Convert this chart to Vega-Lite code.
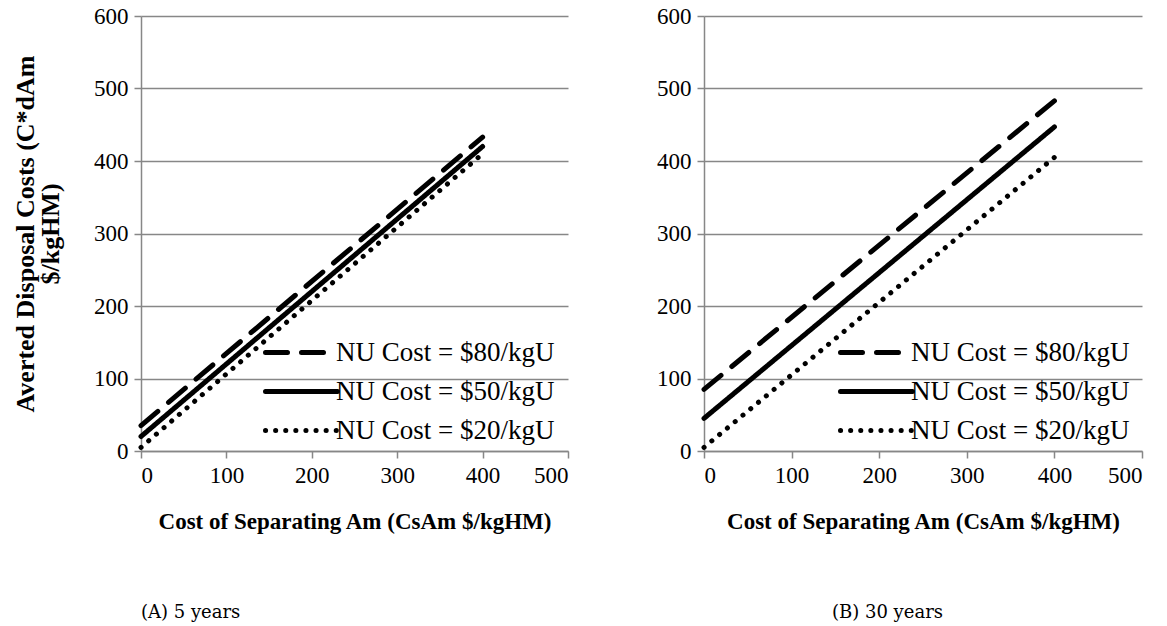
{
  "$schema": "https://vega.github.io/schema/vega-lite/v6.json",
  "padding": {"left": 12, "top": 5, "right": 5, "bottom": 2},
  "background": "white",
  "config": {
    "view": {"stroke": null},
    "font": "Liberation Serif",
    "axis": {
      "labelFont": "Liberation Serif",
      "labelFontSize": 23,
      "labelColor": "black",
      "titleFont": "Liberation Serif",
      "titleFontSize": 23,
      "titleFontWeight": "bold",
      "titleColor": "black",
      "domainColor": "#878787",
      "domainWidth": 1.5,
      "tickColor": "#878787",
      "tickWidth": 1.5,
      "tickSize": 7,
      "gridColor": "#878787",
      "gridWidth": 1.5
    },
    "legend": {
      "labelFont": "Liberation Serif",
      "labelFontSize": 27,
      "labelColor": "black",
      "labelLimit": 400,
      "symbolType": "M-3,0L3,0",
      "symbolSize": 576,
      "symbolStrokeWidth": 5,
      "symbolStrokeColor": "black",
      "symbolFillColor": "transparent",
      "rowPadding": 11,
      "labelOffset": 20
    }
  },
  "datasets": {
    "lines": [
      {"panel": "A", "series": "NU Cost = $80/kgU", "x": 0, "y": 35},
      {"panel": "A", "series": "NU Cost = $80/kgU", "x": 400, "y": 433},
      {"panel": "A", "series": "NU Cost = $50/kgU", "x": 0, "y": 20},
      {"panel": "A", "series": "NU Cost = $50/kgU", "x": 400, "y": 420},
      {"panel": "A", "series": "NU Cost = $20/kgU", "x": 0, "y": 5},
      {"panel": "A", "series": "NU Cost = $20/kgU", "x": 400, "y": 410},
      {"panel": "B", "series": "NU Cost = $80/kgU", "x": 0, "y": 85},
      {"panel": "B", "series": "NU Cost = $80/kgU", "x": 400, "y": 483},
      {"panel": "B", "series": "NU Cost = $50/kgU", "x": 0, "y": 45},
      {"panel": "B", "series": "NU Cost = $50/kgU", "x": 400, "y": 447},
      {"panel": "B", "series": "NU Cost = $20/kgU", "x": 0, "y": 5},
      {"panel": "B", "series": "NU Cost = $20/kgU", "x": 400, "y": 405}
    ]
  },
  "bounds": "flush",
  "spacing": 136,
  "resolve": {"scale": {"strokeDash": "independent"}, "legend": {"strokeDash": "independent"}},
  "hconcat": [
    {
      "width": 427,
      "height": 435,
      "data": {"name": "lines"},
      "transform": [{"filter": "datum.panel == 'A'"}],
      "title": {"text": "(A) 5 years", "orient": "bottom", "anchor": "start", "frame": "group", "offset": 71, "font": "DejaVu Serif", "fontSize": 18, "fontWeight": "normal", "color": "black"},
      "mark": {"type": "line", "color": "black", "strokeWidth": 5, "strokeCap": "round"},
      "encoding": {
        "x": {"field": "x", "type": "quantitative", "scale": {"domain": [0, 500], "nice": false}, "axis": {"title": "Cost of Separating Am (CsAm $/kgHM)", "values": [0, 100, 200, 300, 400, 500], "grid": false, "labelPadding": 6, "titlePadding": 23}},
        "y": {"field": "y", "type": "quantitative", "scale": {"domain": [0, 600], "nice": false}, "axis": {"title": ["Averted Disposal Costs (C*dAm", "$/kgHM)"], "values": [0, 100, 200, 300, 400, 500, 600], "grid": true, "labelPadding": 6, "titlePadding": 30, "titleFontSize": 26, "titleLineHeight": 25}},
        "strokeDash": {"field": "series", "type": "nominal", "sort": ["NU Cost = $80/kgU", "NU Cost = $50/kgU", "NU Cost = $20/kgU"], "scale": {"domain": ["NU Cost = $80/kgU", "NU Cost = $50/kgU", "NU Cost = $20/kgU"], "range": [[22, 14], [1, 0], [0.1, 10]]}, "legend": {"title": null, "orient": "none", "legendX": 146, "legendY": 322, "encode": {"symbols": {"update": {"strokeCap": {"value": "round"}}}}}}
      }
    },
    {
      "width": 438,
      "height": 435,
      "data": {"name": "lines"},
      "transform": [{"filter": "datum.panel == 'B'"}],
      "title": {"text": "(B) 30 years", "orient": "bottom", "anchor": "start", "frame": "group", "dx": 128, "offset": 71, "font": "DejaVu Serif", "fontSize": 18, "fontWeight": "normal", "color": "black"},
      "mark": {"type": "line", "color": "black", "strokeWidth": 5, "strokeCap": "round"},
      "encoding": {
        "x": {"field": "x", "type": "quantitative", "scale": {"domain": [0, 500], "nice": false}, "axis": {"title": "Cost of Separating Am (CsAm $/kgHM)", "values": [0, 100, 200, 300, 400, 500], "grid": false, "labelPadding": 6, "titlePadding": 23}},
        "y": {"field": "y", "type": "quantitative", "scale": {"domain": [0, 600], "nice": false}, "axis": {"title": null, "values": [0, 100, 200, 300, 400, 500, 600], "grid": true, "labelPadding": 6}},
        "strokeDash": {"field": "series", "type": "nominal", "sort": ["NU Cost = $80/kgU", "NU Cost = $50/kgU", "NU Cost = $20/kgU"], "scale": {"domain": ["NU Cost = $80/kgU", "NU Cost = $50/kgU", "NU Cost = $20/kgU"], "range": [[22, 14], [1, 0], [0.1, 10]]}, "legend": {"title": null, "orient": "none", "legendX": 158, "legendY": 322, "encode": {"symbols": {"update": {"strokeCap": {"value": "round"}}}}}}
      }
    }
  ]
}
